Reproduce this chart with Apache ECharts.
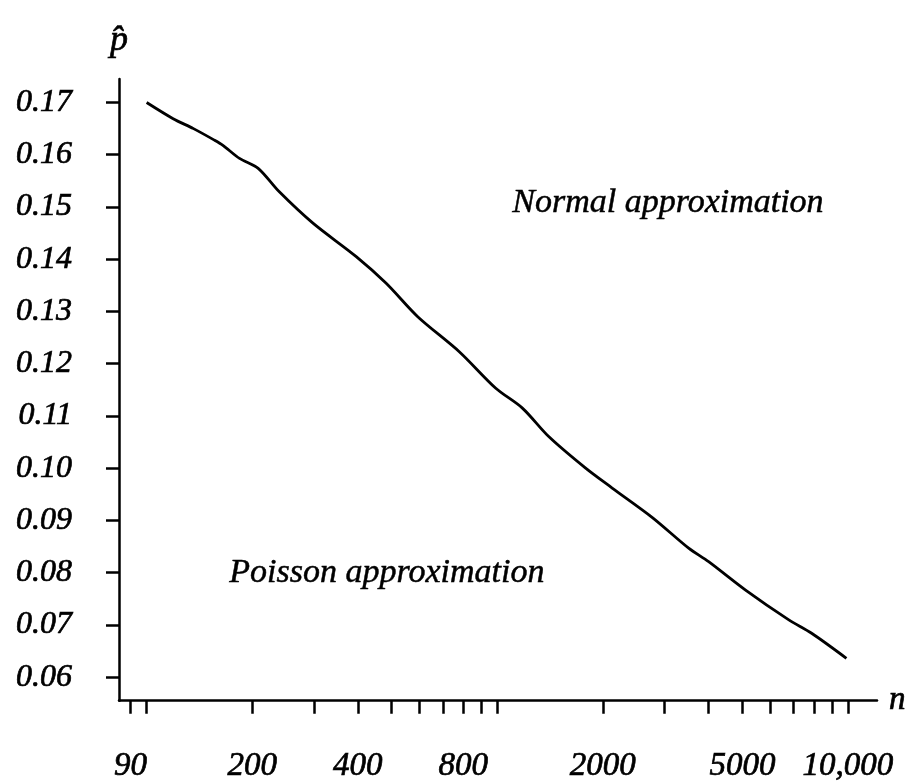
<!DOCTYPE html>
<html><head><meta charset="utf-8">
<script src="https://cdn.jsdelivr.net/npm/echarts@6/dist/echarts.min.js"></script>
<style>html,body{margin:0;padding:0;background:#fff}#c{width:913px;height:783px}</style>
</head><body><div id="c"></div>
<script>
// sample size n (log scale) and boundary value of p-hat
const nValues = [100, 119, 136, 156, 165, 184, 208, 239, 298, 396, 482, 593, 779, 990, 1179, 1404, 1786, 2126, 2763, 3513, 4005, 5093, 6765, 7877, 9900];
const pValues = [0.170, 0.1669, 0.1650, 0.1628, 0.1618, 0.1593, 0.1574, 0.1529, 0.1469, 0.1405, 0.1354, 0.1290, 0.1223, 0.1153, 0.1115, 0.1060, 0.1000, 0.0962, 0.0906, 0.0847, 0.0821, 0.0767, 0.0710, 0.0684, 0.0636];
const xTickValues = [90, 100, 200, 300, 400, 500, 600, 700, 800, 900, 1000, 2000, 3000, 4000, 5000, 6000, 7000, 8000, 9000, 10000];
const xLabelValues = [90, 200, 400, 800, 2000, 5000, 10000];
const yTickValues = [0.06, 0.07, 0.08, 0.09, 0.10, 0.11, 0.12, 0.13, 0.14, 0.15, 0.16, 0.17];
const regionLabels = ['Normal approximation', 'Poisson approximation'];
const xName = 'n';
const yName = 'p\u0302';

const FONT = 'Liberation Serif';
const thick = { textBorderColor: '#000', textBorderWidth: 0.7 };
const chart = echarts.init(document.getElementById('c'));
chart.setOption({
  animation: false,
  backgroundColor: '#fff',
  grid: { left: 119, top: 79, right: 36, bottom: 82, containLabel: false },
  xAxis: {
    type: 'log', logBase: 10, min: 83.4, max: 12100,
    name: xName, nameLocation: 'end', nameGap: 12,
    nameTextStyle: Object.assign({ fontFamily: FONT, fontStyle: 'italic', fontSize: 33, color: '#000', verticalAlign: 'middle', padding: [0, 0, 8, 0] }, thick),
    axisLine: { show: true, onZero: false, lineStyle: { color: '#000', width: 2.5 } },
    axisTick: { show: true, inside: false, length: 13, customValues: xTickValues, lineStyle: { color: '#000', width: 2.5 } },
    axisLabel: Object.assign({
      show: true, customValues: xLabelValues, margin: 49,
      fontFamily: FONT, fontStyle: 'italic', fontSize: 33, color: '#000',
      formatter: v => (v >= 10000 ? Number(v).toLocaleString('en-US') : String(v))
    }, thick),
    splitLine: { show: false }, minorTick: { show: false }
  },
  yAxis: {
    type: 'value', min: 0.0555, max: 0.1745,
    name: yName, nameLocation: 'end', nameGap: 20,
    nameTextStyle: Object.assign({ fontFamily: FONT, fontStyle: 'italic', fontSize: 36, color: '#000', align: 'center' }, thick),
    axisLine: { show: true, onZero: false, lineStyle: { color: '#000', width: 2.5 } },
    axisTick: { show: true, inside: false, length: 13, customValues: yTickValues, lineStyle: { color: '#000', width: 2.5 } },
    axisLabel: Object.assign({
      show: true, customValues: yTickValues, margin: 47,
      fontFamily: FONT, fontStyle: 'italic', fontSize: 32, color: '#000',
      formatter: v => Number(v).toFixed(2)
    }, thick),
    splitLine: { show: false }
  },
  graphic: [
    { type: 'text', left: 512, top: 186, style: { text: regionLabels[0], font: 'italic 34px "Liberation Serif"', fill: '#000', stroke: '#000', lineWidth: 0.5 } },
    { type: 'text', left: 229, top: 556, style: { text: regionLabels[1], font: 'italic 34px "Liberation Serif"', fill: '#000', stroke: '#000', lineWidth: 0.5 } }
  ],
  series: [{
    type: 'line',
    data: nValues.map((n, i) => [n, pValues[i]]),
    showSymbol: false, smooth: 0.3,
    lineStyle: { color: '#000', width: 2.8 }
  }]
});
</script>
</body></html>
